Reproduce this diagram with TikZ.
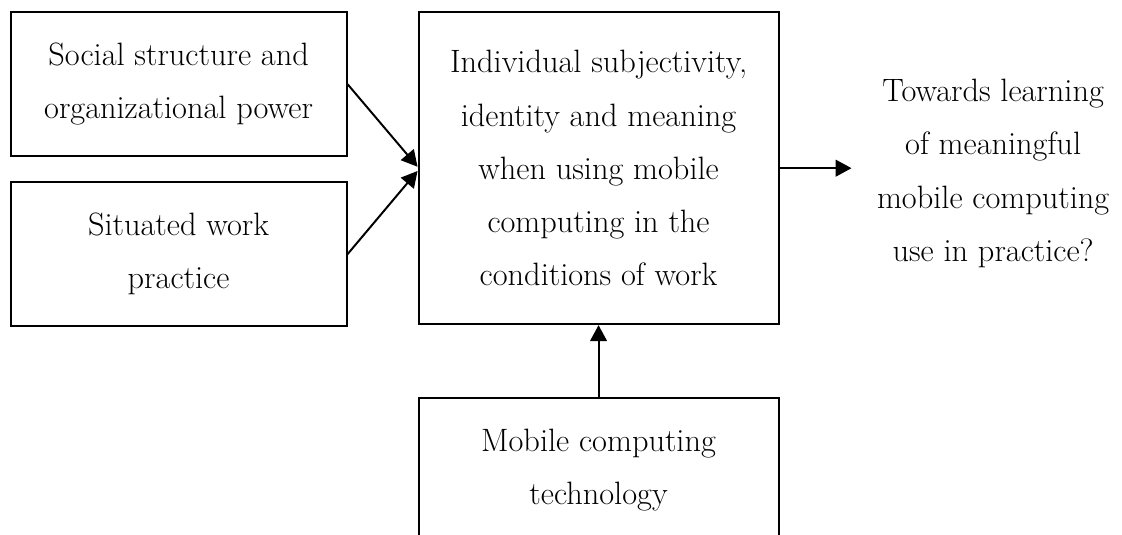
\documentclass[tikz,border=0pt]{standalone}
\usetikzlibrary{arrows.meta,positioning}

\begin{document}
\begin{tikzpicture}[
    factor/.style={draw, line width=1.4pt, align=center,
                   font=\fontsize{23}{37.8}\selectfont,
                   minimum width=8.4cm, minimum height=3.6cm},
    focus/.style={factor, minimum width=9.0cm, minimum height=7.8cm},
    outcome/.style={align=center, inner xsep=0.63cm,
                    font=\fontsize{23}{37.8}\selectfont},
    arr/.style={-{Triangle[length=0.4cm,width=0.42cm]}, line width=1.4pt}
  ]
    \useasboundingbox (0,0) rectangle (28.05,-13.375);
    \clip (0,0) rectangle (28.05,-13.375);

    \node[factor]  (soc)  [anchor=north west] at (0.24,-0.28)
                          {Social structure and\\organizational power};
    \node[factor]  (prac) [below=0.6cm of soc] {Situated work\\practice};
    \node[focus]   (core) [right=1.75cm of soc.north east, anchor=north west]
                          {Individual subjectivity,\\identity and meaning\\when using mobile\\computing in the\\conditions of work};
    \node[factor]  (tech) [below=1.8cm of core, minimum width=9.0cm]
                          {Mobile computing\\technology};
    \node[outcome] (goal) [right=1.8cm of core, yshift=-0.13cm]
                          {Towards learning\\of meaningful\\mobile computing\\use in practice?};

    \draw[arr] (soc.east)  -- ([yshift=1pt]core.west);
    \draw[arr] (prac.east) -- ([yshift=-2pt]core.west);
    \draw[arr] (core.east) -- (core.east -| goal.west);
    \draw[arr] (tech)      -- (core);
\end{tikzpicture}
\end{document}
